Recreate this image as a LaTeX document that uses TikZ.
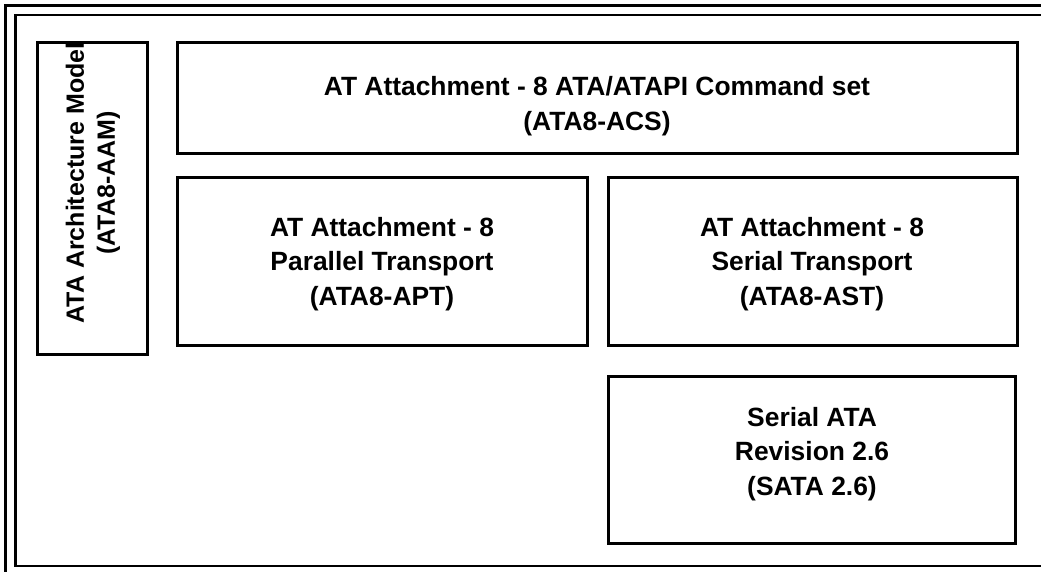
\documentclass[tikz,border=0pt]{standalone}
\usepackage{fontspec}
\setmainfont{Liberation Sans}
\begin{document}
\begin{tikzpicture}[x=1pt,y=-1pt,
  frame/.style={draw=black,line width=2.6pt},
  boxline/.style={draw=black,line width=3pt},
  lbl/.style={align=center,inner sep=0pt,font=\fontsize{26.4}{34.8}\selectfont\bfseries}]
\useasboundingbox (0,0) rectangle (1041,571);
\clip (0,0) rectangle (1041,571);
\draw[frame] (5.5,5.5) rectangle (1060,590);
\draw[frame] (15.5,15) rectangle (1060,566);
% boxes
\draw[boxline] (37,42) rectangle (147,354);
\draw[boxline] (177,42) rectangle (1017,153);
\draw[boxline] (177,177) rectangle (587,345);
\draw[boxline] (608,177) rectangle (1017,345);
\draw[boxline] (608,376) rectangle (1015,543);
% labels
\node[lbl,rotate=90,font=\fontsize{25}{31}\selectfont\bfseries] (aam) at (93,183) {ATA Architecture Model\\(ATA8-AAM)};
\node[lbl] (acs) at (597,106) {AT Attachment - 8 ATA/ATAPI Command set\\(ATA8-ACS)};
\node[lbl] (apt) at (382,264) {AT Attachment - 8\\Parallel Transport\\(ATA8-APT)};
\node[lbl] (ast) at (812,264) {AT Attachment - 8\\Serial Transport\\(ATA8-AST)};
\node[lbl] (sata) at (812,454) {Serial ATA\\Revision 2.6\\(SATA 2.6)};
\end{tikzpicture}
\end{document}
